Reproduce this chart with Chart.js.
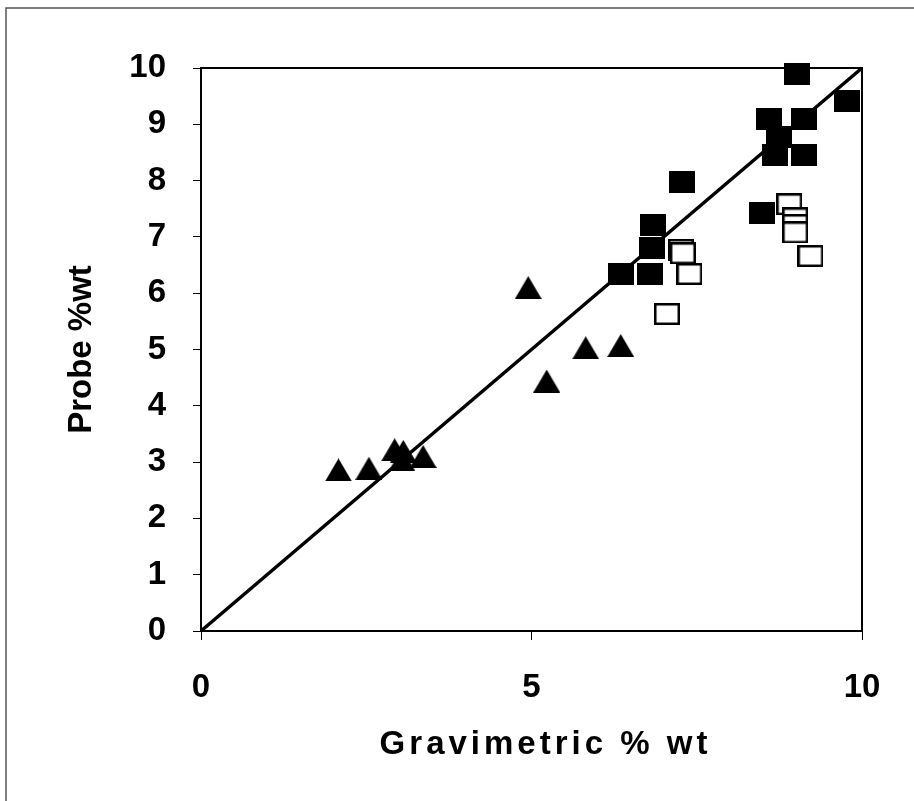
<!DOCTYPE html>
<html>
<head>
<meta charset="utf-8">
<script src="https://cdn.jsdelivr.net/npm/chart.js@4.4.1/dist/chart.umd.min.js"></script>
<style>
  html, body { margin: 0; padding: 0; background: #fff; }
  #wrap { width: 914px; height: 801px; }
</style>
</head>
<body>
<div id="wrap"><canvas id="c" width="914" height="801"></canvas></div>
<script>
// ---- data ----
const triX = [2.08, 2.54, 2.93, 3.06, 3.04, 3.36, 4.95, 5.23, 5.82, 6.35];
const triY = [2.86, 2.89, 3.22, 3.19, 3.04, 3.10, 6.10, 4.44, 5.03, 5.07];

const filledX = [6.36, 6.79, 6.82, 6.84, 7.27, 8.48, 8.60, 9.12, 8.75, 8.69, 9.12, 9.01, 9.78];
const filledY = [6.34, 6.34, 6.80, 7.21, 7.98, 7.43, 9.09, 9.09, 8.77, 8.45, 8.45, 9.89, 9.42];

const openX = [7.05, 7.26, 7.29, 7.39, 8.90, 8.99, 8.99, 8.99, 9.22];
const openY = [5.63, 6.77, 6.71, 6.34, 7.58, 7.33, 7.21, 7.08, 6.66];

const lineX = [0, 10];
const lineY = [0, 10];

const xTitle = 'Gravimetric % wt';
const yTitle = 'Probe %wt';

// ---- helpers ----
function pts(xs, ys) { return xs.map((x, i) => ({ x: x, y: ys[i] })); }

function makeMarker(kind) {
  const w = kind === 'tri' ? 27 : 26;
  const h = kind === 'tri' ? 23 : 22;
  const cv = document.createElement('canvas');
  cv.width = w; cv.height = h;
  const g = cv.getContext('2d');
  g.fillStyle = '#000';
  if (kind === 'filled') {
    g.fillRect(0, 0, w, h);
  } else if (kind === 'open') {
    g.fillStyle = '#fff';
    g.fillRect(0, 0, w, h);
    g.strokeStyle = '#000';
    g.lineWidth = 2.5;
    g.strokeRect(1.25, 1.25, w - 2.5, h - 2.5);
  } else {
    g.beginPath();
    g.moveTo(w / 2, 0);
    g.lineTo(w, h);
    g.lineTo(0, h);
    g.closePath();
    g.fill();
  }
  return cv;
}

const frame = {
  id: 'frame',
  beforeDraw(chart) {
    const ctx = chart.ctx;
    ctx.save();
    ctx.fillStyle = '#fff';
    ctx.fillRect(0, 0, chart.width, chart.height);
    ctx.strokeStyle = '#555';
    ctx.lineWidth = 1.5;
    ctx.beginPath();
    ctx.moveTo(6, 801);
    ctx.lineTo(6, 8);
    ctx.lineTo(914, 8);
    ctx.stroke();
    ctx.restore();
  },
  afterDraw(chart) {
    const a = chart.chartArea;
    const ctx = chart.ctx;
    ctx.save();
    ctx.strokeStyle = '#000';
    ctx.lineWidth = 2;
    ctx.beginPath();
    ctx.moveTo(a.left, a.top);
    ctx.lineTo(a.right, a.top);
    ctx.lineTo(a.right, a.bottom);
    ctx.stroke();
    ctx.restore();
  }
};

const tickFont = { family: '"Liberation Sans", Arial, sans-serif', size: 33, weight: 'bold' };
const titleFont = { family: '"Liberation Sans", Arial, sans-serif', size: 33, weight: 'bold' };

new Chart(document.getElementById('c'), {
  type: 'scatter',
  data: {
    datasets: [
      { label: 'Triangles', data: pts(triX, triY), pointStyle: makeMarker('tri'), pointRadius: 13, clip: false, order: 1 },
      { label: 'Filled', data: pts(filledX, filledY), pointStyle: makeMarker('filled'), pointRadius: 13, clip: false, order: 1 },
      { label: 'Open', data: pts(openX, openY), pointStyle: makeMarker('open'), pointRadius: 13, clip: false, order: 0 },
      { label: 'y = x', type: 'line', data: pts(lineX, lineY), borderColor: '#000', borderWidth: 3.5,
        pointRadius: 0, fill: false, tension: 0, clip: false, order: 5 }
    ]
  },
  options: {
    responsive: false,
    animation: false,
    devicePixelRatio: 1,
    layout: { padding: { top: 68, right: 52, left: 0, bottom: 0 } },
    plugins: { legend: { display: false }, tooltip: { enabled: false } },
    scales: {
      x: {
        type: 'linear', min: 0, max: 10,
        ticks: { stepSize: 5, color: '#000', font: tickFont, padding: 28, maxRotation: 0 },
        grid: { drawOnChartArea: false, drawTicks: true, tickLength: 9, color: '#000', lineWidth: 1 },
        border: { display: true, color: '#000', width: 2 },
        title: { display: true, text: xTitle, color: '#000', font: titleFont, padding: { top: 0, bottom: 36 } },
        afterFit(scale) {
          scale.height = 170;
          if (!scale._lsPatched) {
            scale._lsPatched = true;
            const orig = scale.drawTitle;
            scale.drawTitle = function () {
              const ctx = this.ctx;
              ctx.save();
              ctx.letterSpacing = '4px';
              ctx.translate(14, 0);
              orig.apply(this, arguments);
              ctx.restore();
            };
          }
        }
      },
      y: {
        type: 'linear', min: 0, max: 10,
        ticks: { stepSize: 1, color: '#000', font: tickFont, padding: 27 },
        grid: { drawOnChartArea: false, drawTicks: true, tickLength: 8, color: '#000', lineWidth: 1 },
        border: { display: true, color: '#000', width: 2 },
        title: { display: true, text: yTitle, color: '#000', font: titleFont, padding: { top: 62, bottom: 0 } },
        afterFit(scale) { scale.width = 201; }
      }
    }
  },
  plugins: [frame]
});
</script>
</body>
</html>
